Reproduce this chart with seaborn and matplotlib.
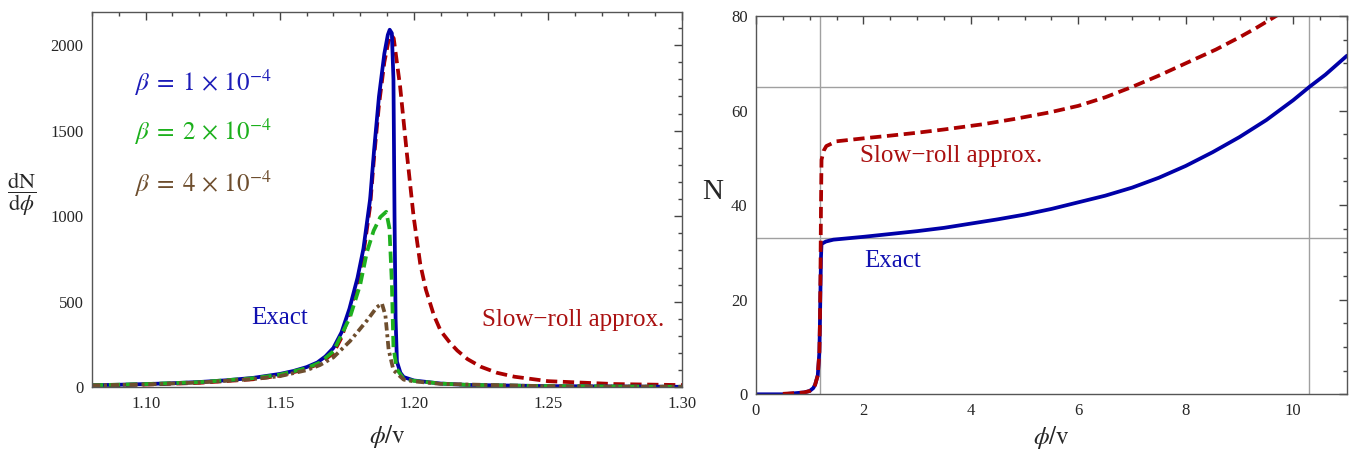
import numpy as np
import pandas as pd
import matplotlib
matplotlib.use('Agg')
import matplotlib.pyplot as plt
from matplotlib.ticker import MultipleLocator, FormatStrFormatter
import seaborn as sns

# ---- left panel: dN/dphi around the inflection point ----
phi_exact1 = [1.080, 1.090, 1.100, 1.110, 1.120, 1.130, 1.140, 1.150, 1.155, 1.160,
              1.164, 1.167, 1.170, 1.173, 1.176, 1.179, 1.1812, 1.1837, 1.1852, 1.187,
              1.189, 1.1903, 1.1910, 1.1918, 1.1924, 1.1928, 1.1932, 1.1937, 1.1950,
              1.1962, 1.200, 1.210, 1.220, 1.250, 1.300]
dn_exact1 = [12, 15, 19, 24, 31, 41, 55, 78, 95, 118,
             145, 180, 230, 320, 460, 640, 810, 1100, 1390, 1700,
             1950, 2060, 2090, 2070, 1800, 1000, 400, 150, 85,
             60, 40, 22, 14, 7, 3]

phi_exact2 = [1.080, 1.100, 1.120, 1.140, 1.150, 1.160, 1.165, 1.170, 1.1762, 1.180,
              1.1825, 1.185, 1.1875, 1.1897, 1.1909, 1.1918, 1.1924, 1.1937, 1.1962,
              1.200, 1.210, 1.220, 1.250, 1.300]
dn_exact2 = [12, 19, 30, 53, 74, 112, 145, 210, 410, 600,
             790, 915, 995, 1026, 930, 610, 230, 105, 50,
             38, 22, 14, 7, 3]

phi_exact4 = [1.080, 1.100, 1.120, 1.140, 1.150, 1.160, 1.165, 1.170, 1.1762, 1.1825,
              1.1862, 1.1881, 1.1894, 1.1906, 1.1924, 1.1962, 1.200, 1.210, 1.250, 1.300]
dn_exact4 = [11, 17, 28, 48, 65, 100, 130, 175, 270, 390,
             468, 490, 420, 220, 100, 45, 35, 20, 6, 3]

phi_sr = [1.080, 1.100, 1.120, 1.140, 1.150, 1.160, 1.165, 1.170, 1.173, 1.176,
          1.179, 1.1812, 1.1837, 1.1852, 1.187, 1.189, 1.1905, 1.1915, 1.1925, 1.1949,
          1.1974, 1.1999, 1.2024, 1.2045, 1.2075, 1.210, 1.2135, 1.2162, 1.2200, 1.225,
          1.2310, 1.2375, 1.250, 1.275, 1.300]
dn_sr = [10, 16, 26, 47, 68, 108, 140, 200, 290, 430,
         610, 780, 1060, 1350, 1650, 1900, 2020, 2060, 2040, 1756,
         1367, 1000, 720, 570, 420, 330, 260, 215, 165, 120,
         85, 62, 36, 19, 13]

# ---- right panel: N(phi) ----
phi_N_exact = [0.0, 0.5, 0.8, 0.9, 1.0, 1.065, 1.1, 1.15, 1.18, 1.19, 1.20, 1.21, 1.22,
               1.3, 1.44, 2.0, 2.5, 3.0, 3.5, 4.0, 4.5, 5.0, 5.5, 6.0, 6.5, 7.0, 7.5,
               8.0, 8.5, 9.0, 9.5, 10.0, 10.3, 10.6, 11.0]
N_exact = [0.0, 0.0, 0.3, 0.4, 0.7, 1.3, 2.0, 4.0, 9.0, 15.0, 22.0, 29.0, 31.8,
           32.3, 32.7, 33.3, 33.9, 34.5, 35.2, 36.1, 37.0, 38.0, 39.2, 40.6, 42.0, 43.7, 45.8,
           48.3, 51.2, 54.4, 58.0, 62.2, 65.0, 67.6, 71.6]

phi_N_sr = [0.5, 0.8, 0.9, 1.0, 1.065, 1.1, 1.15, 1.18, 1.19, 1.20, 1.21, 1.22,
            1.26, 1.31, 1.5, 2.06, 2.5, 2.99, 3.5, 4.22, 4.8, 5.46, 6.0, 6.5, 7.0, 7.5,
            8.0, 8.56, 9.0, 9.3, 9.68, 9.8]
N_sr = [0.1, 0.3, 0.4, 0.7, 1.3, 2.0, 4.0, 9.0, 15.0, 25.0, 40.0, 49.6,
        51.5, 52.5, 53.5, 54.2, 54.7, 55.3, 56.0, 57.1, 58.2, 59.6, 61.0, 62.8, 65.0, 67.4,
        70.0, 72.9, 75.5, 77.4, 80.0, 80.8]

grid_x = [1.2, 10.3]
grid_y = [33, 65]

BLUE = '#0000a8'
RED = '#aa0000'
GREEN = '#1fb01f'
BROWN = '#6e4e2e'

sns.set_theme(style='white')
plt.rcParams['font.family'] = ['Liberation Serif', 'DejaVu Serif']
plt.rcParams['mathtext.fontset'] = 'stix'

fig = plt.figure(figsize=(13.57, 4.53), dpi=100)
ax1 = fig.add_axes([0.0678, 0.145, 0.4348, 0.829])
ax2 = fig.add_axes([0.5571, 0.1296, 0.4355, 0.8351])

lw = 2.7
l_red = sns.lineplot(x=phi_sr, y=dn_sr, ax=ax1, color=RED, lw=lw, estimator=None,
                     sort=False).lines[-1]
l_red.set_dashes((3.0, 1.5))
sns.lineplot(x=phi_exact1, y=dn_exact1, ax=ax1, color=BLUE, lw=lw, estimator=None, sort=False)
l_g = sns.lineplot(x=phi_exact2, y=dn_exact2, ax=ax1, color=GREEN, lw=lw, estimator=None,
                   sort=False).lines[-1]
l_g.set_dashes((3.0, 1.5))
l_b = sns.lineplot(x=phi_exact4, y=dn_exact4, ax=ax1, color=BROWN, lw=lw, estimator=None,
                   sort=False).lines[-1]
l_b.set_dashes((2.2, 1.0, 0.8, 1.0))

ax1.set_xlim(1.08, 1.30)
ax1.set_ylim(0, 2195)
ax1.xaxis.set_major_locator(MultipleLocator(0.05))
ax1.xaxis.set_minor_locator(MultipleLocator(0.01))
ax1.yaxis.set_major_locator(MultipleLocator(500))
ax1.yaxis.set_minor_locator(MultipleLocator(100))
ax1.xaxis.set_major_formatter(FormatStrFormatter('%.2f'))

beta_fmt = r'$\beta \;=\; {} \,\times\, 10^{{-4}}$'
ax1.text(1.0957, 1777, beta_fmt.format(1), color='#1c1cb8', fontsize=18, va='center')
ax1.text(1.0957, 1493, beta_fmt.format(2), color='#1cb01c', fontsize=18, va='center')
ax1.text(1.0957, 1192, beta_fmt.format(4), color='#6e4e2e', fontsize=18, va='center')
ax1.text(1.1393, 405, 'Exact', color='#1010b0', fontsize=18, va='center')
ax1.text(1.2254, 393, 'Slow\u2212roll approx.', color='#aa1010', fontsize=18, va='center')

ax1.set_xlabel(r'$\phi/\mathrm{v}$', fontsize=18, labelpad=8)
ax1.set_ylabel(r'$\dfrac{\mathrm{dN}}{\mathrm{d}\phi}$', fontsize=16, rotation=0)
ax1.yaxis.set_label_coords(-0.119, 0.451)

# right panel
for gx in grid_x:
    ax2.axvline(gx, color='#a0a0a0', lw=1, zorder=1)
for gy in grid_y:
    ax2.axhline(gy, color='#a0a0a0', lw=1, zorder=1)
sns.lineplot(x=phi_N_exact, y=N_exact, ax=ax2, color=BLUE, lw=lw, estimator=None, sort=False)
l_r = sns.lineplot(x=phi_N_sr, y=N_sr, ax=ax2, color=RED, lw=lw, estimator=None,
                   sort=False).lines[-1]
l_r.set_dashes((3.0, 1.5))

ax2.set_xlim(0, 11)
ax2.set_ylim(0, 80)
ax2.xaxis.set_major_locator(MultipleLocator(2))
ax2.xaxis.set_minor_locator(MultipleLocator(0.5))
ax2.yaxis.set_major_locator(MultipleLocator(20))
ax2.yaxis.set_minor_locator(MultipleLocator(5))

ax2.text(1.93, 50.3, 'Slow\u2212roll approx.', color='#aa1010', fontsize=18, va='center')
ax2.text(2.02, 28.1, 'Exact', color='#1010b0', fontsize=18, va='center')

ax2.set_xlabel(r'$\phi/\mathrm{v}$', fontsize=18, labelpad=4)
ax2.set_ylabel('N', fontsize=21, rotation=0)
ax2.yaxis.set_label_coords(-0.074, 0.50)

for ax in (ax1, ax2):
    ax.tick_params(which='both', direction='in', top=True, right=True, color='#444444',
                   labelsize=12, width=1)
    ax.tick_params(which='major', length=6, pad=6)
    ax.tick_params(which='minor', length=3)
    for s in ax.spines.values():
        s.set_color('#555555')
        s.set_linewidth(1)

fig.savefig('out.png', dpi=100)
